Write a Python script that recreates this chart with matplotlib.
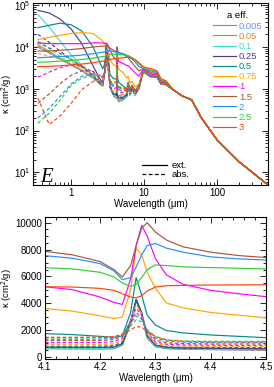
import matplotlib
matplotlib.use('Agg')
import matplotlib.pyplot as plt
from matplotlib.lines import Line2D
from matplotlib.ticker import AutoMinorLocator, FuncFormatter, LogLocator, NullFormatter

plt.rcParams['font.family'] = ['Liberation Sans', 'DejaVu Sans']
plt.rcParams['mathtext.fontset'] = 'custom'
plt.rcParams['mathtext.rm'] = 'Liberation Sans'
plt.rcParams['mathtext.it'] = 'Liberation Sans:italic'

SIZES = ['0.005', '0.05', '0.1', '0.25', '0.5', '0.75', '1', '1.5', '2', '2.5', '3']
COLORS = ['#6495ED', '#D2883C', '#40E0D0', '#483D8B', '#008B8B', '#FFA500',
          '#FF00FF', '#A8573A', '#1E90FF', '#32CD32', '#FF4500']

# wavelength segments (micron)
WL_SHORT = [0.35, 0.5, 0.7, 1.0, 1.4, 2.0, 2.7, 2.9, 3.05, 3.2, 3.4, 3.8]
WL_MID = [4.10, 4.15, 4.20, 4.225, 4.24, 4.255, 4.265, 4.275, 4.285, 4.30, 4.32, 4.35, 4.40, 4.45, 4.50]
WL_LONG = [5.2, 5.8, 6.05, 6.4, 6.85, 7.5, 8.5, 9.7, 11, 12.5, 15, 17, 20]
WL_TAIL = [25, 33, 45, 60, 100, 200, 500]

EXT_SHORT = [
    [10000, 7200, 5200, 3700, 2700, 1800, 1150, 2600, 12000, 6000, 1100, 700],
    [11500, 7800, 5400, 3800, 2750, 1820, 1160, 2600, 12000, 6000, 1100, 700],
    [60000, 30000, 14000, 6500, 3600, 2100, 1250, 2700, 12000, 6000, 1150, 720],
    [75000, 65000, 47000, 27000, 12000, 3500, 1300, 2800, 12000, 6200, 1200, 760],
    [29000, 33000, 37000, 34000, 24000, 10000, 3000, 4000, 11500, 7000, 2200, 1750],
    [15000, 17000, 19000, 21000, 22000, 21000, 14000, 12000, 12000, 8500, 5000, 3700],
    [12500, 12000, 12000, 12000, 12000, 12500, 12500, 12000, 12500, 11000, 8500, 5800],
    [8000, 8000, 8300, 8700, 9200, 10000, 10500, 10500, 11000, 10500, 9500, 8300],
    [5500, 5700, 5900, 6100, 6400, 6900, 7500, 7700, 8000, 8200, 8100, 7700],
    [4300, 4400, 4600, 4800, 5000, 5400, 5900, 6000, 6200, 6400, 6600, 6700],
    [3400, 3450, 3550, 3700, 3900, 4200, 4600, 4700, 4800, 4900, 5000, 5200],
]
EXT_MID = [
    [600, 590, 580, 600, 850, 2500, 4200, 3150, 1400, 740, 600, 560, 530, 510, 490],
    [620, 610, 600, 620, 870, 2520, 4220, 3170, 1420, 760, 620, 580, 550, 530, 510],
    [650, 640, 630, 650, 900, 2550, 4250, 3200, 1450, 790, 650, 610, 580, 560, 540],
    [720, 710, 700, 720, 970, 2600, 4300, 3300, 1550, 860, 700, 660, 630, 610, 590],
    [1720, 1650, 1520, 1450, 1550, 3300, 5900, 4600, 3100, 2350, 1950, 1780, 1620, 1520, 1420],
    [3600, 3400, 3050, 2850, 2950, 5000, 8100, 7600, 6300, 5100, 4000, 3650, 3300, 3100, 2900],
    [5220, 5000, 4450, 4050, 3900, 5800, 8300, 9800, 9000, 7300, 6100, 5400, 4950, 4700, 4480],
    [7860, 7600, 7100, 6500, 5950, 6800, 8300, 9600, 10000, 9300, 8700, 8200, 7800, 7550, 7400],
    [7540, 7350, 6950, 6400, 5750, 5900, 6700, 7600, 8300, 8450, 8100, 7800, 7450, 7300, 7220],
    [6640, 6550, 6300, 5950, 5500, 5250, 5400, 5900, 6500, 6850, 6800, 6700, 6650, 6600, 6550],
    [5220, 5200, 5100, 4950, 4700, 4450, 4400, 4550, 4900, 5200, 5300, 5320, 5350, 5360, 5370],
]
EXT_LONG = [
    [550, 650, 1200, 700, 1000, 700, 1000, 2600, 2200, 1900, 1900, 1300, 1250],
    [560, 660, 1200, 710, 1000, 710, 1010, 2600, 2200, 1900, 1900, 1300, 1250],
    [580, 680, 1220, 730, 1020, 730, 1030, 2620, 2220, 1920, 1920, 1310, 1260],
    [630, 720, 1260, 770, 1060, 770, 1080, 2680, 2280, 1980, 1960, 1330, 1270],
    [1150, 1000, 1450, 950, 1200, 880, 1180, 2750, 2350, 2050, 2000, 1360, 1290],
    [2400, 1800, 2000, 1400, 1500, 1100, 1300, 2800, 2450, 2150, 2050, 1400, 1310],
    [4000, 3600, 3600, 3200, 2900, 2400, 2000, 2900, 2550, 2250, 2150, 1450, 1350],
    [6700, 5800, 5500, 4800, 4200, 3400, 2700, 3000, 2700, 2450, 2300, 1550, 1400],
    [6900, 6300, 6100, 5600, 5100, 4400, 3400, 3100, 2850, 2650, 2450, 1600, 1450],
    [6500, 6300, 6200, 5900, 5500, 4900, 3900, 3200, 2950, 2800, 2550, 1650, 1480],
    [5500, 5700, 5700, 5600, 5400, 5000, 4200, 3400, 3150, 3050, 2700, 1750, 1550],
]
TAIL = [950, 680, 540, 210, 60, 18, 5]

ABS_SHORT = [
    [10000, 7200, 5200, 3700, 2700, 1800, 1150, 2600, 12000, 6000, 1100, 700],
    [10500, 7400, 5300, 3750, 2720, 1810, 1150, 2600, 12000, 6000, 1100, 700],
    [14000, 9000, 6000, 4100, 2900, 1900, 1180, 2650, 12000, 6000, 1120, 710],
    [20000, 13000, 8000, 5000, 3300, 2000, 1200, 2700, 11500, 5800, 1150, 730],
    [13000, 9500, 7000, 5000, 3500, 2100, 1250, 2700, 10000, 5500, 1100, 760],
    [7000, 6000, 5200, 4300, 3300, 2200, 1300, 2600, 8500, 5000, 1050, 850],
    [1900, 2500, 3200, 3700, 3500, 2500, 1500, 2700, 7500, 4500, 1100, 1000],
    [450, 750, 1300, 2100, 2700, 2600, 1800, 2600, 6000, 4000, 1300, 1150],
    [200, 340, 650, 1300, 2000, 2300, 2000, 2500, 5000, 3500, 1400, 1250],
    [150, 260, 520, 1200, 1800, 2100, 2000, 2400, 4300, 3200, 1500, 1350],
    [600, 140, 220, 450, 950, 1500, 1900, 2300, 3800, 3000, 1550, 1420],
]
ABS_MID = [
    [600, 590, 580, 600, 850, 2500, 4200, 3150, 1400, 740, 600, 560, 530, 510, 490],
    [620, 610, 600, 620, 870, 2520, 4220, 3170, 1420, 760, 620, 580, 550, 530, 510],
    [660, 650, 640, 665, 910, 2550, 4230, 3180, 1450, 790, 650, 610, 580, 560, 545],
    [700, 700, 700, 740, 1000, 2600, 4200, 3250, 1550, 850, 680, 640, 620, 610, 600],
    [780, 780, 790, 830, 1100, 2650, 4100, 3250, 1600, 900, 740, 700, 690, 680, 680],
    [900, 900, 910, 960, 1250, 2700, 3900, 3200, 1700, 1000, 830, 790, 770, 760, 760],
    [1050, 1050, 1060, 1120, 1400, 2700, 3600, 3100, 1800, 1100, 930, 880, 860, 850, 850],
    [1200, 1200, 1210, 1270, 1550, 2600, 3300, 2900, 1900, 1250, 1030, 980, 950, 950, 950],
    [1300, 1300, 1320, 1380, 1650, 2500, 3050, 2800, 2000, 1400, 1150, 1080, 1050, 1050, 1050],
    [1400, 1400, 1420, 1480, 1700, 2300, 2750, 2600, 2000, 1500, 1250, 1180, 1150, 1150, 1150],
    [1450, 1450, 1460, 1500, 1650, 2000, 2250, 2200, 1900, 1500, 1250, 1150, 1100, 1100, 1100],
]
ABS_LONG = [
    [550, 650, 1200, 700, 1000, 700, 1000, 2600, 2200, 1900, 1900, 1300, 1250],
    [560, 660, 1200, 710, 1000, 710, 1010, 2600, 2200, 1900, 1900, 1300, 1250],
    [570, 670, 1210, 720, 1010, 720, 1020, 2600, 2200, 1900, 1900, 1300, 1250],
    [600, 700, 1230, 740, 1030, 740, 1040, 2620, 2220, 1920, 1910, 1300, 1250],
    [660, 740, 1260, 770, 1060, 770, 1070, 2640, 2240, 1940, 1920, 1310, 1255],
    [730, 800, 1300, 810, 1100, 800, 1100, 2650, 2260, 1960, 1930, 1320, 1260],
    [800, 860, 1330, 850, 1130, 830, 1130, 2650, 2280, 1980, 1940, 1330, 1265],
    [890, 920, 1370, 900, 1170, 870, 1170, 2600, 2300, 2000, 1950, 1340, 1270],
    [980, 980, 1400, 950, 1200, 900, 1200, 2550, 2300, 2020, 1960, 1350, 1275],
    [1050, 1040, 1420, 990, 1220, 930, 1220, 2500, 2300, 2040, 1970, 1360, 1280],
    [1000, 1000, 1380, 980, 1200, 920, 1200, 2450, 2300, 2060, 1980, 1370, 1285],
]

FS = 7
LW = 0.85
DASH = (0, (3, 2))

fig = plt.figure(figsize=(2.74, 3.87), dpi=100)
ax1 = fig.add_axes([0.1204, 0.522, 0.858, 0.470])
ax2 = fig.add_axes([0.164, 0.0724, 0.807, 0.367])

wl_all = WL_SHORT + WL_MID + WL_LONG + WL_TAIL
ext_handles = []
for i, c in enumerate(COLORS):
    ext = EXT_SHORT[i] + EXT_MID[i] + EXT_LONG[i] + TAIL
    ab = ABS_SHORT[i] + ABS_MID[i] + ABS_LONG[i] + TAIL
    ax1.plot(wl_all, ab, color=c, lw=LW, ls=DASH)
    h, = ax1.plot(wl_all, ext, color=c, lw=LW)
    ext_handles.append(h)
    ax2.plot(WL_MID, ABS_MID[i], color=c, lw=LW, ls=DASH)
    ax2.plot(WL_MID, EXT_MID[i], color=c, lw=LW)

ax1.set_xscale('log')
ax1.set_yscale('log')
ax1.set_xlim(0.3, 500)
ax1.set_ylim(5, 1.12e5)
ax1.xaxis.set_major_formatter(FuncFormatter(lambda v, p: '%g' % v))
ax1.xaxis.set_minor_formatter(NullFormatter())
ax1.yaxis.set_major_locator(LogLocator(base=10, numticks=10))
ax1.set_xlabel('Wavelength (μm)', fontsize=FS, labelpad=1)
ax1.set_ylabel('κ (cm$^2$/g)', fontsize=6.8)
ax1.yaxis.set_label_coords(-0.076, 0.5)

ax2.set_xlim(4.1, 4.5)
ax2.set_ylim(-170, 10430)
ax2.set_xticks([4.1, 4.2, 4.3, 4.4, 4.5])
ax2.set_yticks([0, 2000, 4000, 6000, 8000, 10000])
ax2.xaxis.set_minor_locator(AutoMinorLocator(5))
ax2.yaxis.set_minor_locator(AutoMinorLocator(4))
ax2.set_xlabel('Wavelength (μm)', fontsize=FS, labelpad=1)
ax2.set_ylabel('κ (cm$^2$/g)', fontsize=6.8)
ax2.yaxis.set_label_coords(-0.135, 0.5)

for ax in (ax1, ax2):
    ax.tick_params(which='both', direction='in', top=True, right=True,
                   labelsize=FS, width=0.6, pad=2)
    ax.tick_params(which='major', length=4)
    ax.tick_params(which='minor', length=2)
    for s in ax.spines.values():
        s.set_linewidth(0.8)

leg = ax1.legend(ext_handles, SIZES, title='a eff.', loc='upper right',
                 bbox_to_anchor=(1.0, 0.985), frameon=False, fontsize=6.8,
                 title_fontsize=6.8, handlelength=2.4, handletextpad=0.3,
                 labelspacing=0.12, borderaxespad=0.2, labelcolor=COLORS)
ax1.add_artist(leg)
h2 = [Line2D([], [], color='k', lw=0.9), Line2D([], [], color='k', lw=0.9, ls=DASH)]
ax1.legend(h2, ['ext.', 'abs.'], loc='lower left', bbox_to_anchor=(0.44, 0.0),
           frameon=False, fontsize=6.8, handlelength=2.6, labelspacing=0.05,
           handletextpad=0.5, borderaxespad=0.2)

ax1.text(0.03, 0.015, 'E', transform=ax1.transAxes, fontsize=15,
         family='Liberation Serif', style='italic', va='baseline')

fig.savefig('out.png', dpi=100)
